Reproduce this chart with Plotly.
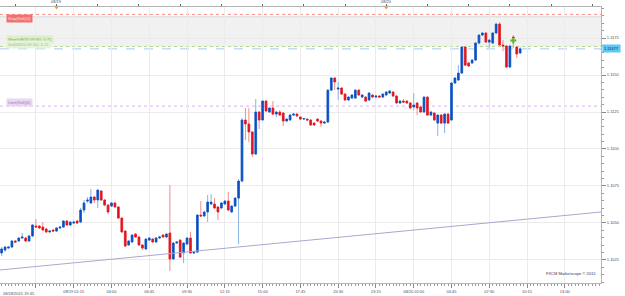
import pandas as pd
import plotly.graph_objects as go

# ---- data (EUR/USD 15-min candles) ----
opens = [1.10297,1.10317,1.10330,1.10337,1.10378,1.10378,1.10398,1.10398,1.10378,1.10412,
         1.10479,1.10479,1.10472,1.10459,1.10439,1.10452,1.10445,1.10466,1.10472,1.10513,
         1.10486,1.10499,1.10513,1.10506,1.10587,1.10648,1.10635,1.10675,1.10655,1.10716,
         1.10655,1.10621,1.10614,1.10635,1.10608,1.10533,1.10445,1.10351,1.10371,1.10425,
         1.10405,1.10351,1.10324,1.10384,1.10391,1.10371,1.10398,1.10418,1.10405,1.10432,
         1.10256,1.10364,1.10384,1.10297,1.10357,1.10398,1.10297,1.10303,1.10553,1.10547,
         1.10574,1.10628,1.10628,1.10608,1.10601,1.10628,1.10648,1.10574,1.10614,1.10668,
         1.10783,1.11196,1.11169,1.11115,1.10966,1.11250,1.11196,1.11324,1.11250,1.11277,
         1.11236,1.11250,1.11243,1.11189,1.11196,1.11229,1.11236,1.11216,1.11202,1.11202,
         1.11196,1.11175,1.11202,1.11189,1.11175,1.11182,1.11398,1.11480,1.11405,1.11412,
         1.11371,1.11331,1.11344,1.11344,1.11398,1.11351,1.11351,1.11331,1.11365,1.11351,
         1.11358,1.11351,1.11365,1.11378,1.11385,1.11358,1.11311,1.11324,1.11324,1.11311,
         1.11284,1.11311,1.11284,1.11250,1.11351,1.11229,1.11243,1.11175,1.11229,1.11175,
         1.11236,1.11196,1.11446,1.11466,1.11513,1.11689,1.11581,1.11581,1.11601,1.11716,
         1.11770,1.11784,1.11723,1.11716,1.11784,1.11845,1.11703,1.11696,1.11554,1.11757,
         1.11689,1.11649]
highs = [1.10337,1.10344,1.10344,1.10384,1.10384,1.10405,1.10432,1.10405,1.10418,1.10493,
         1.10526,1.10486,1.10506,1.10466,1.10452,1.10459,1.10472,1.10479,1.10520,1.10520,
         1.10513,1.10513,1.10520,1.10601,1.10655,1.10675,1.10729,1.10682,1.10729,1.10722,
         1.10662,1.10628,1.10641,1.10641,1.10614,1.10540,1.10452,1.10384,1.10425,1.10432,
         1.10412,1.10357,1.10398,1.10405,1.10398,1.10405,1.10412,1.10425,1.10432,1.10756,
         1.10371,1.10378,1.10391,1.10371,1.10405,1.10439,1.10310,1.10560,1.10648,1.10581,
         1.10689,1.10695,1.10668,1.10614,1.10641,1.10655,1.10709,1.10621,1.10675,1.10797,
         1.11209,1.11277,1.11277,1.11121,1.11338,1.11257,1.11331,1.11331,1.11284,1.11324,
         1.11257,1.11263,1.11250,1.11209,1.11236,1.11243,1.11243,1.11223,1.11209,1.11209,
         1.11202,1.11182,1.11209,1.11196,1.11189,1.11405,1.11486,1.11486,1.11453,1.11419,
         1.11378,1.11358,1.11371,1.11405,1.11405,1.11371,1.11358,1.11385,1.11371,1.11365,
         1.11365,1.11378,1.11392,1.11398,1.11392,1.11365,1.11331,1.11338,1.11331,1.11317,
         1.11378,1.11317,1.11290,1.11358,1.11358,1.11257,1.11250,1.11236,1.11236,1.11243,
         1.11243,1.11453,1.11486,1.11567,1.11696,1.11696,1.11588,1.11608,1.11723,1.11777,
         1.11791,1.11791,1.11743,1.11791,1.11851,1.11858,1.11736,1.11703,1.11703,1.11770,
         1.11696,1.11689]
lows = [1.10276,1.10303,1.10324,1.10330,1.10364,1.10371,1.10391,1.10371,1.10371,1.10405,
        1.10466,1.10459,1.10445,1.10432,1.10432,1.10439,1.10439,1.10459,1.10466,1.10479,
        1.10479,1.10493,1.10493,1.10499,1.10567,1.10635,1.10628,1.10635,1.10601,1.10648,
        1.10614,1.10560,1.10608,1.10601,1.10526,1.10432,1.10337,1.10344,1.10364,1.10398,
        1.10344,1.10317,1.10317,1.10378,1.10364,1.10364,1.10391,1.10398,1.10398,1.10175,
        1.10249,1.10357,1.10263,1.10229,1.10351,1.10290,1.10290,1.10297,1.10540,1.10540,
        1.10506,1.10621,1.10594,1.10520,1.10594,1.10621,1.10581,1.10567,1.10608,1.10357,
        1.10777,1.11060,1.11047,1.10946,1.10959,1.11135,1.11189,1.11250,1.11243,1.11229,
        1.11216,1.11223,1.11155,1.11182,1.11189,1.11223,1.11216,1.11196,1.11196,1.11189,
        1.11155,1.11155,1.11182,1.11148,1.11169,1.11175,1.11392,1.11398,1.11331,1.11365,
        1.11324,1.11324,1.11338,1.11338,1.11358,1.11344,1.11317,1.11324,1.11344,1.11344,
        1.11344,1.11344,1.11358,1.11371,1.11351,1.11304,1.11304,1.11311,1.11304,1.11270,
        1.11263,1.11229,1.11243,1.11243,1.11223,1.11223,1.11189,1.11088,1.11169,1.11108,
        1.11169,1.11189,1.11439,1.11459,1.11507,1.11561,1.11554,1.11574,1.11595,1.11709,
        1.11764,1.11716,1.11682,1.11709,1.11777,1.11696,1.11662,1.11547,1.11547,1.11682,
        1.11615,1.11642]
closes = [1.10324,1.10337,1.10337,1.10378,1.10371,1.10398,1.10405,1.10378,1.10412,1.10486,
          1.10472,1.10466,1.10452,1.10439,1.10445,1.10445,1.10466,1.10472,1.10513,1.10486,
          1.10506,1.10506,1.10499,1.10587,1.10635,1.10655,1.10675,1.10655,1.10722,1.10655,
          1.10621,1.10574,1.10635,1.10608,1.10533,1.10439,1.10344,1.10378,1.10418,1.10405,
          1.10351,1.10330,1.10391,1.10398,1.10371,1.10398,1.10405,1.10405,1.10425,1.10256,
          1.10364,1.10371,1.10269,1.10364,1.10398,1.10297,1.10303,1.10553,1.10547,1.10574,
          1.10641,1.10641,1.10601,1.10574,1.10635,1.10648,1.10587,1.10614,1.10668,1.10783,
          1.11196,1.11169,1.11115,1.10966,1.11250,1.11196,1.11324,1.11257,1.11277,1.11236,
          1.11250,1.11229,1.11189,1.11202,1.11229,1.11236,1.11223,1.11202,1.11206,1.11196,
          1.11162,1.11162,1.11189,1.11175,1.11182,1.11398,1.11480,1.11453,1.11412,1.11371,
          1.11331,1.11351,1.11365,1.11398,1.11365,1.11365,1.11324,1.11378,1.11351,1.11358,
          1.11351,1.11371,1.11385,1.11392,1.11358,1.11311,1.11324,1.11317,1.11311,1.11277,
          1.11297,1.11277,1.11250,1.11351,1.11229,1.11250,1.11196,1.11229,1.11175,1.11236,
          1.11175,1.11446,1.11480,1.11513,1.11689,1.11567,1.11561,1.11601,1.11716,1.11770,
          1.11784,1.11723,1.11736,1.11784,1.11845,1.11703,1.11696,1.11554,1.11696,1.11750,
          1.11642,1.11677]
first_bar = "2015-08-18 20:00"
bar_freq = "15min"

x_range = ["2015-08-18 19:53", "2015-08-20 15:38"]
y_range = [1.10094, 1.11960]

tick_times = ["2015-08-18 19:45", "2015-08-18 22:30", "2015-08-19 01:15", "2015-08-19 04:00",
              "2015-08-19 06:45", "2015-08-19 09:30", "2015-08-19 12:15", "2015-08-19 15:00",
              "2015-08-19 17:45", "2015-08-19 20:30", "2015-08-19 23:15", "2015-08-20 02:00",
              "2015-08-20 04:45", "2015-08-20 07:30", "2015-08-20 10:15", "2015-08-20 13:00"]
tick_labels = ["08/18/2015 19:45", "", "08/19 01:15", "04:00", "06:45", "09:30", "12:15", "15:00",
               "17:45", "20:30", "23:15", "08/20 02:00", "04:45", "07:30", "10:15", "13:00"]
top_ticks_start, top_ticks_end = "2015-08-18 21:00", "2015-08-20 15:00"
date_marks = ["2015-08-19 00:00", "2015-08-20 00:00"]
date_labels = ["08/19", "08/20"]

stop_level = 1.11910
zone_top, zone_bottom = 1.11894, 1.11691
short_level = 1.11693
bid_level = 1.11677
limit_level = 1.11290
trend_times = ["2015-08-18 19:53", "2015-08-20 15:38"]
trend_prices = [1.10182, 1.10574]
signal_time = ["2015-08-20 09:15"]
signal_price = [1.11733]

# ---- figure ----
times = pd.date_range(first_bar, periods=len(opens), freq=bar_freq)
body_hi = [max(o, c) for o, c in zip(opens, closes)]
body_lo = [min(o, c) for o, c in zip(opens, closes)]

BLUE, RED = "#0b4fc4", "#e3141c"
LBLUE, LRED = "#86b2e8", "#f08c8c"
TXT = "#4a4a6a"
FONT = "Liberation Sans"

fig = go.Figure()

# gray zone + level lines
fig.add_shape(type="rect", xref="paper", x0=0, x1=1, yref="y", y0=zone_bottom, y1=zone_top,
              fillcolor="#f1f1f1", line=dict(width=0), layer="below")
fig.add_shape(type="line", xref="paper", x0=0, x1=1, yref="y", y0=zone_top, y1=zone_top,
              line=dict(color="#d8d8d8", width=1), layer="below")
for lvl, col, dash in [(stop_level, "#ff8a8a", "dot"), (short_level, "#b5d99a", "dot"),
                       (bid_level, "#a9c9ec", "dash"), (limit_level, "#dcb0ea", "dot")]:
    fig.add_shape(type="line", xref="paper", x0=0, x1=1, yref="y", y0=lvl, y1=lvl,
                  line=dict(color=col, width=1, dash=dash), layer="below")

# trend line
fig.add_trace(go.Scatter(x=trend_times, y=trend_prices, mode="lines",
                         line=dict(color="#a8a8d0", width=1), hoverinfo="skip", showlegend=False))

# candles: wicks (light) then bodies (dark)
fig.add_trace(go.Candlestick(x=times, open=opens, high=highs, low=lows, close=closes,
                             increasing=dict(line=dict(color=LBLUE, width=1), fillcolor=LBLUE),
                             decreasing=dict(line=dict(color=LRED, width=1), fillcolor=LRED),
                             showlegend=False))
fig.add_trace(go.Candlestick(x=times, open=opens, high=body_hi, low=body_lo, close=closes,
                             increasing=dict(line=dict(color=BLUE, width=0.6), fillcolor=BLUE),
                             decreasing=dict(line=dict(color=RED, width=0.6), fillcolor=RED),
                             showlegend=False))

fig.add_trace(go.Scatter(x=signal_time, y=signal_price, mode="markers",
                         marker=dict(symbol="cross", size=5, color="#5cb82a"),
                         showlegend=False, hoverinfo="skip"))

# date markers on the top axis
fig.add_trace(go.Scatter(x=date_marks, y=[1] * len(date_marks), xaxis="x2", yaxis="y2",
                         mode="markers", cliponaxis=False,
                         marker=dict(symbol="triangle-down", size=5, color="#f0a020"),
                         showlegend=False, hoverinfo="skip"))

annots = []
for t, lab in zip(date_marks, date_labels):
    annots.append(dict(x=t, xref="x", y=1, yref="paper", yanchor="bottom", yshift=1,
                       text=lab, showarrow=False, font=dict(size=4, color=TXT, family=FONT)))
annots.append(dict(x=0, xref="paper", xanchor="left", xshift=1, y=0, yref="paper",
                   yanchor="top", yshift=-6, text=tick_labels[0], showarrow=False,
                   font=dict(size=4, color=TXT, family=FONT)))
annots.append(dict(x=1, xref="paper", xanchor="left", xshift=1, y=bid_level, yref="y",
                   text="1.11677", showarrow=False, bgcolor="#5cc8f5", borderpad=1,
                   font=dict(size=4, color="#14324a", family=FONT)))
annots.append(dict(x=0.995, xref="paper", xanchor="right", y=0.018, yref="paper",
                   text="FXCM Marketscope © 2015", showarrow=False,
                   font=dict(size=4, color="#333366", family=FONT)))
for txt, lvl, bg, fg, shift in [("Stop(Sell)(0)", stop_level, "#f07070", "#ffe0e0", -4),
                                ("Short(08/20 09:30), 0.71", short_level, "#dcefcc", "#6f9f4f", 7),
                                ("Sell(08/20 09:30), 0.71", short_level, "#e6f3da", "#9cc27f", 2),
                                ("Limit(Sell)(0)", limit_level, "#ead7f3", "#a274bd", 4)]:
    annots.append(dict(x=0.01, xref="paper", xanchor="left", y=lvl, yref="y", yshift=shift,
                       text=txt, showarrow=False, bgcolor=bg, borderpad=1,
                       font=dict(size=4, color=fg, family=FONT)))

fig.update_layout(
    width=625, height=296, margin=dict(l=0, r=24, t=7, b=13),
    paper_bgcolor="white", plot_bgcolor="white", showlegend=False,
    font=dict(family=FONT, size=4, color=TXT),
    annotations=annots,
    xaxis=dict(type="date", range=x_range, rangeslider=dict(visible=False),
               tickmode="array", tickvals=tick_times, ticktext=tick_labels,
               showgrid=True, gridcolor="#ebebeb", gridwidth=1,
               ticks="outside", ticklen=4, tickcolor="#888888",
               tickfont=dict(size=4, color=TXT),
               minor=dict(ticks="outside", ticklen=2, tickcolor="#999999",
                          tick0="2015-08-18 19:45", dtick=15 * 60 * 1000, showgrid=False),
               showline=True, linecolor="#b4b4b4", mirror=True, zeroline=False),
    xaxis2=dict(type="date", overlaying="x", side="top", range=x_range,
                tickmode="array",
                tickvals=list(pd.date_range(top_ticks_start, top_ticks_end, freq="3h")),
                showticklabels=False, ticks="outside", ticklen=2, tickcolor="#666666",
                showgrid=False, showline=False, zeroline=False),
    yaxis=dict(range=y_range, side="right", dtick=0.0025, tick0=1.1, tickformat=".4f",
               showgrid=True, gridcolor="#ebebeb", gridwidth=1,
               ticks="outside", ticklen=4, tickcolor="#888888",
               tickfont=dict(size=4, color=TXT),
               minor=dict(ticks="outside", ticklen=2, tickcolor="#999999", dtick=0.0005,
                          tick0=1.1, showgrid=False),
               showline=True, linecolor="#b4b4b4", mirror=True, zeroline=False),
    yaxis2=dict(overlaying="y", range=[0, 1], visible=False),
)

fig.write_html("out.html")
